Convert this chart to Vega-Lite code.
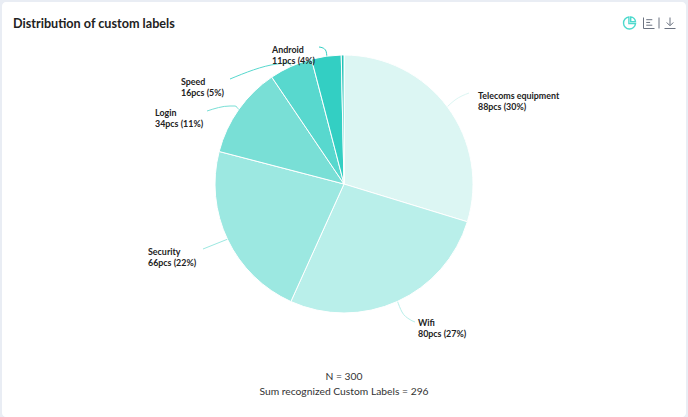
{
"$schema":"https://vega.github.io/schema/vega-lite/v6.json",
"width":684,"height":415,
"autosize":{"type":"none"},
"padding":{"left":2,"top":2,"right":2,"bottom":0},
"background":"#e9edf4",
"title":{"text":"Distribution of custom labels","anchor":"start","frame":"group","dx":11,"offset":-29,"fontSize":12.65,"fontWeight":700,"font":"Lato","color":"#222222"},
"config":{"view":{"fill":"#ffffff","stroke":null,"cornerRadius":4}},
"datasets":{
"slices":[
{"category":"Telecoms equipment","count":88,"rank":1,"dx":0,"dy":0},
{"category":"Wifi","count":80,"rank":2,"dx":0,"dy":0},
{"category":"Security","count":66,"rank":3,"dx":0,"dy":0},
{"category":"Login","count":34,"rank":4,"dx":0,"dy":0},
{"category":"Speed","count":16,"rank":5,"dx":0,"dy":0},
{"category":"Android","count":11,"rank":6,"dx":0,"dy":0},
{"category":"Other","count":1,"rank":7,"dx":0,"dy":0}
],
"labels":[
{"category":"Telecoms equipment","text":"Telecoms equipment\n88pcs (30%)","dx":134,"dy":-92},
{"category":"Wifi","text":"Wifi\n80pcs (27%)","dx":74,"dy":135},
{"category":"Security","text":"Security\n66pcs (22%)","dx":-196,"dy":64},
{"category":"Login","text":"Login\n34pcs (11%)","dx":-189,"dy":-75},
{"category":"Speed","text":"Speed\n16pcs (5%)","dx":-163,"dy":-106},
{"category":"Android","text":"Android\n11pcs (4%)","dx":-72,"dy":-138}
],
"leaders":[
{"category":"Telecoms equipment","step":1,"dx":103,"dy":-77},
{"category":"Telecoms equipment","step":2,"dx":111,"dy":-84},
{"category":"Telecoms equipment","step":3,"dx":125,"dy":-91},
{"category":"Wifi","step":1,"dx":53,"dy":116},
{"category":"Wifi","step":2,"dx":58,"dy":128},
{"category":"Wifi","step":3,"dx":65,"dy":135},
{"category":"Wifi","step":4,"dx":71,"dy":138},
{"category":"Security","step":1,"dx":-141,"dy":65},
{"category":"Security","step":2,"dx":-116,"dy":55},
{"category":"Login","step":1,"dx":-137,"dy":-73},
{"category":"Login","step":2,"dx":-114,"dy":-78},
{"category":"Login","step":3,"dx":-109,"dy":-78},
{"category":"Login","step":4,"dx":-105,"dy":-74},
{"category":"Speed","step":1,"dx":-114,"dy":-105},
{"category":"Speed","step":2,"dx":-67,"dy":-120},
{"category":"Speed","step":3,"dx":-56,"dy":-121},
{"category":"Speed","step":4,"dx":-52,"dy":-117},
{"category":"Android","step":1,"dx":-25,"dy":-137},
{"category":"Android","step":2,"dx":-21,"dy":-136},
{"category":"Android","step":3,"dx":-18,"dy":-133},
{"category":"Android","step":4,"dx":-17,"dy":-127}
],
"notes":[
{"text":"N = 300","dx":0,"dy":193},
{"text":"Sum recognized Custom Labels = 296","dx":0,"dy":208}
],
"icons":[
{"icon":"list","dx":305,"dy":-161},
{"icon":"divider","dx":315,"dy":-161},
{"icon":"download","dx":326,"dy":-161}
]
},
"data":{"name":"slices"},
"encoding":{
"x":{"field":"dx","type":"quantitative","axis":null,"scale":{"domain":[-342,342],"nice":false,"zero":false}},
"y":{"field":"dy","type":"quantitative","axis":null,"scale":{"domain":[233,-182],"nice":false,"zero":false}}
},
"layer":[
{"data":{"name":"leaders"},
 "mark":{"type":"line","interpolate":"monotone","strokeWidth":1},
 "encoding":{"order":{"field":"step","type":"ordinal"},
  "color":{"field":"category","type":"nominal","legend":null,
   "scale":{"domain":["Telecoms equipment","Wifi","Security","Login","Speed","Android","Other"],"range":["#dcf6f3","#b9efea","#9ce8e1","#79dfd6","#58d8ce","#33cfc3","#24c4b8"]}}}},
{"transform":[{"stack":"count","sort":[{"field":"rank","order":"ascending"}],"as":["start","end"]}],
 "mark":{"type":"arc","radius":129,"stroke":"#ffffff","strokeWidth":1},
 "encoding":{
  "theta":{"field":"start","type":"quantitative","scale":{"domain":[0,296],"range":[0,6.2832]}},
  "theta2":{"field":"end"},
  "color":{"field":"category","type":"nominal","legend":null}}},
{"data":{"name":"labels"},
 "mark":{"type":"text","align":"left","baseline":"top","lineBreak":"\n","lineHeight":11,"font":"Lato","fontWeight":700,"fontSize":8.9,"color":"#222222"},
 "encoding":{"text":{"field":"text"}}},
{"data":{"name":"notes"},
 "mark":{"type":"text","align":"center","baseline":"middle","font":"Lato","fontSize":10.3,"color":"#333333"},
 "encoding":{"text":{"field":"text"}}},
{"data":{"values":[{"icon":"pie","dx":285.5,"dy":-161}]},
 "mark":{"type":"point","filled":false,"size":144,"stroke":"#4dd9cd","strokeWidth":1.4,"opacity":1,
  "shape":"M-0.1,-1 A1,1 0 1 0 1,0.1 L-0.1,0.1 Z M0.2,-1 A0.85,0.85 0 0 1 1,-0.2 L0.2,-0.2 Z"}},
{"data":{"name":"icons"},
 "mark":{"type":"point","filled":false,"size":121,"stroke":"#6b7280","strokeWidth":1,"opacity":1},
 "encoding":{"shape":{"field":"icon","type":"nominal","legend":null,
  "scale":{"domain":["list","divider","download"],"range":["M-1,-1 L-1,1 L1,1 M-0.5,-0.6 L0.6,-0.6 M-0.5,-0.1 L0.2,-0.1 M-0.5,0.4 L0.6,0.4","M0,-1 L0,1","M0,-1 L0,0.4 M-0.6,-0.1 L0,0.5 L0.6,-0.1 M-1,1 L1,1"]}}}}
]
}
